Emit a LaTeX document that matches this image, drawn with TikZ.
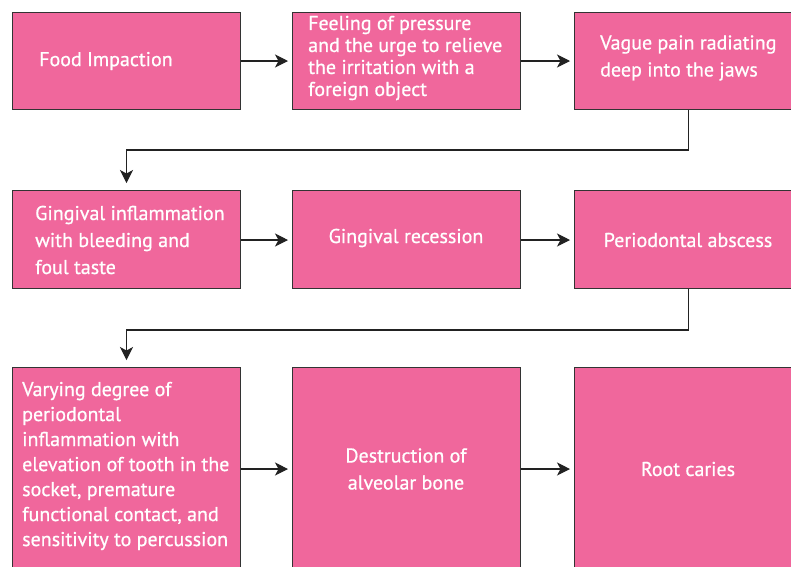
\documentclass[tikz,border=0pt]{standalone}
\usepackage{fontspec}
\setmainfont{PT Sans}
\newfontfamily\boxfont{PT Sans}[FakeBold=0.7]
\usetikzlibrary{arrows.meta}
\definecolor{boxpink}{HTML}{F0679C}
\definecolor{edgegray}{HTML}{333333}
\definecolor{arrgray}{HTML}{222222}
\begin{document}
\begin{tikzpicture}[x=1pt,y=-1pt,
  box/.style={draw=edgegray, line width=1pt, fill=boxpink, rectangle, inner sep=0pt,
              minimum width=228pt, anchor=north west},
  txt/.style={text=white, font=\boxfont\fontsize{20}{#1}\selectfont, align=left, anchor=west, inner sep=0pt},
  txt/.default=25,
  ctxt/.style={text=white, font=\boxfont\fontsize{20}{#1}\selectfont, align=center, anchor=center, inner sep=0pt},
  ctxt/.default=27,
  arr/.style={draw=arrgray, line width=1.1pt, shorten >=4pt,
              -{Stealth[length=13pt,width=13pt,inset=3.5pt]}},
  varr/.style={draw=arrgray, line width=1.1pt, shorten >=7pt,
              -{Stealth[length=13pt,width=13pt,inset=3.5pt]}}]
\useasboundingbox (0,0) rectangle (791,566);
\clip (0,0) rectangle (791,566);
\fill[white] (0,0) rectangle (791,566);
% row 1
\node[box, minimum height=97pt] (b1) at (12,12) {};
\node[box, minimum height=97pt] (b2) at (292,12) {};
\node[box, minimum height=97pt] (b3) at (574,12) {};
% row 2
\node[box, minimum height=98pt] (b4) at (12,190) {};
\node[box, minimum height=98pt] (b5) at (292,190) {};
\node[box, minimum height=98pt] (b6) at (574,190) {};
% row 3
\node[box, minimum height=220pt] (b7) at (12,367) {};
\node[box, minimum height=220pt] (b8) at (292,367) {};
\node[box, minimum height=220pt] (b9) at (574,367) {};
% texts
\node[txt] (t1) at (39,61) {Food Impaction};
\node[txt=22] (t2) at (308,58) {Feeling of pressure\\and the urge to relieve\\the irritation with a\\foreign object};
\node[txt=27] (t3) at (600,58) {Vague pain radiating\\deep into the jaws};
\node[txt=27] (t4) at (35,240) {Gingival inflammation\\with bleeding and\\foul taste};
\node[ctxt] (t5) at (406,238) {Gingival recession};
\node[ctxt] (t6) at (688,240) {Periodontal abscess};
\node[txt=25] (t7) at (22,466) {Varying degree of\\periodontal\\inflammation with\\elevation of tooth in the\\socket, premature\\functional contact, and\\sensitivity to percussion};
\node[ctxt] (t8) at (406,469) {Destruction of\\alveolar bone};
\node[ctxt] (t9) at (688,469) {Root caries};
% connectors
\coordinate (k1) at (400,150);
\coordinate (k2) at (400,330);
\draw[arr] (b1.east |- 0,61) -- (b2.west |- 0,61);
\draw[arr] (b2.east |- 0,61) -- (b3.west |- 0,61);
\draw[varr] (b3.south) |- (k1) -| (b4.north);
\draw[arr] (b4.east |- 0,240) -- (b5.west |- 0,240);
\draw[arr] (b5.east |- 0,240) -- (b6.west |- 0,240);
\draw[varr] (b6.south) |- (k2) -| (b7.north);
\draw[arr] (b7.east |- 0,469) -- (b8.west |- 0,469);
\draw[arr] (b8.east |- 0,469) -- (b9.west |- 0,469);
\end{tikzpicture}
\end{document}
